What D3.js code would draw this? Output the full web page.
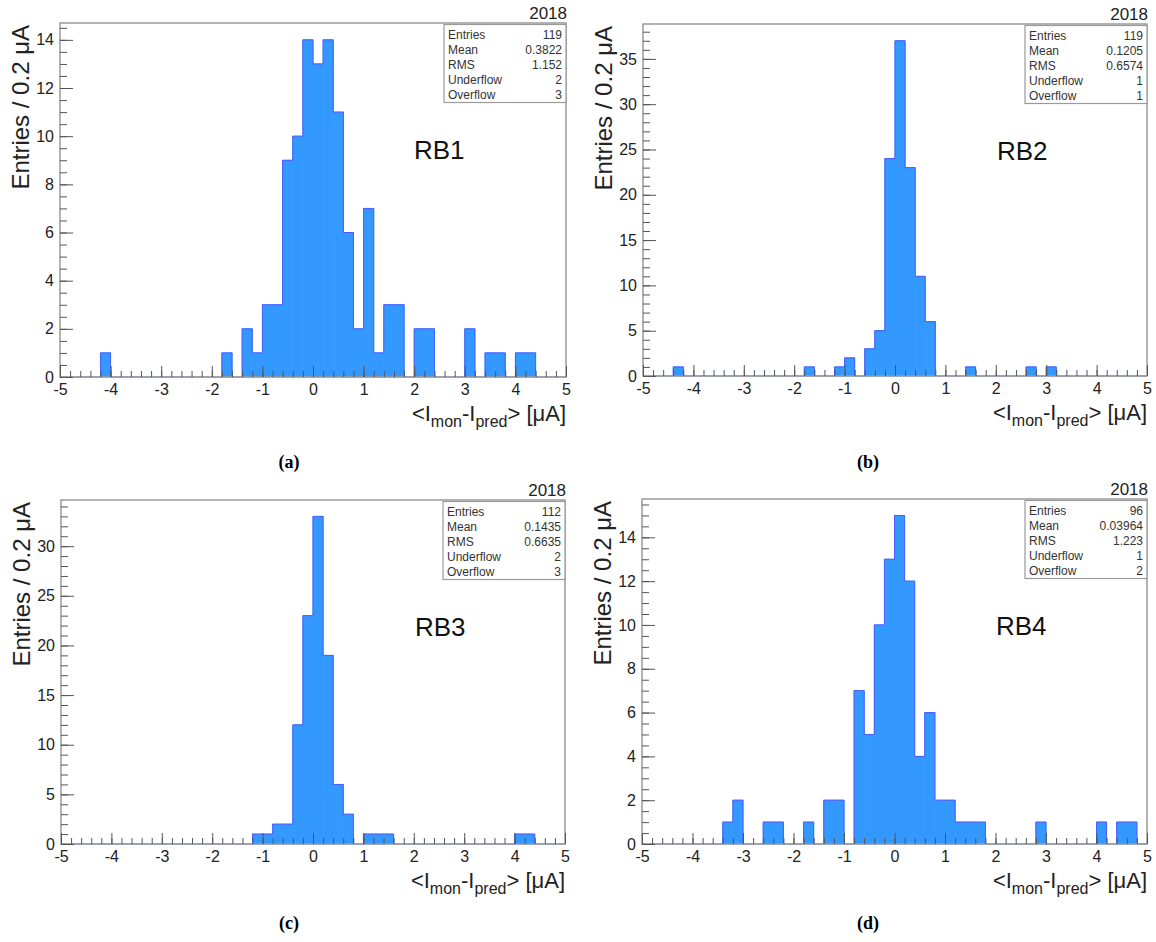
<!DOCTYPE html>
<html>
<head>
<meta charset="utf-8">
<script src="https://cdn.jsdelivr.net/npm/d3@7/dist/d3.min.js"></script>
<style>
body { margin: 0; background: #fff; }
svg { display: block; font-family: "Liberation Sans", Arial, sans-serif; }
</style>
</head>
<body>
<svg id="chart" width="1156" height="942"></svg>
<script>
// 50 bins of 0.2 uA between -5 and 5
var binLow = -5
var binWidth = 0.2

var countsRB1 = [0,0,0,0,1, 0,0,0,0,0, 0,0,0,0,0, 0,1,0,2,1, 3,3,9,10,14, 13,14,11,6,2, 7,1,3,3,0, 2,2,0,0,0, 2,0,1,1,0, 1,1,0,0,0]
var countsRB2 = [0,0,0,1,0, 0,0,0,0,0, 0,0,0,0,0, 0,1,0,0,1, 2,0,3,5,24, 37,23,11,6,0, 0,0,1,0,0, 0,0,0,1,0, 1,0,0,0,0, 0,0,0,0,0]
var countsRB3 = [0,0,0,0,0, 0,0,0,0,0, 0,0,0,0,0, 0,0,0,0,1, 1,2,2,12,23, 33,19,6,3,0, 1,1,1,0,0, 0,0,0,0,0, 0,0,0,0,0, 1,1,0,0,0]
var countsRB4 = [0,0,0,0,0, 0,0,0,1,2, 0,0,1,1,0, 0,1,0,2,2, 0,7,5,10,13, 15,12,4,6,2, 2,1,1,1,0, 0,0,0,0,1, 0,0,0,0,0, 1,0,1,1,0]

var chamberNames = ["RB1", "RB2", "RB3", "RB4"]
var captions = ["(a)", "(b)", "(c)", "(d)"]
var yearLabel = "2018"

var statLabels = ["Entries", "Mean", "RMS", "Underflow", "Overflow"]
var statsRB1 = ["119", "0.3822", "1.152", "2", "3"]
var statsRB2 = ["119", "0.1205", "0.6574", "1", "1"]
var statsRB3 = ["112", "0.1435", "0.6635", "2", "3"]
var statsRB4 = ["96", "0.03964", "1.223", "1", "2"]

var xTicks = [-5, -4, -3, -2, -1, 0, 1, 2, 3, 4, 5]
var yTicksRB1 = [0, 2, 4, 6, 8, 10, 12, 14]
var yTicksRB2 = [0, 5, 10, 15, 20, 25, 30, 35]
var yTicksRB3 = [0, 5, 10, 15, 20, 25, 30]
var yTicksRB4 = [0, 2, 4, 6, 8, 10, 12, 14]
var yMinorSteps = [0.5, 1, 1, 0.5]

var yTitle = "Entries / 0.2 \u03bcA"

var allCounts = [countsRB1, countsRB2, countsRB3, countsRB4]
var allStats = [statsRB1, statsRB2, statsRB3, statsRB4]
var allYTicks = [yTicksRB1, yTicksRB2, yTicksRB3, yTicksRB4]

// frame of each pad (px)
var frames = [
    { x: 60, y: 23, w: 506, h: 354 },
    { x: 643, y: 24, w: 504, h: 352 },
    { x: 61, y: 500, w: 504, h: 344 },
    { x: 642, y: 499, w: 505, h: 345 }
]
var captionPos = [[289, 468], [868, 468], [289, 929], [868, 929]]

var svg = d3.select('#chart')

function drawPanel(i) {
    var f = frames[i]
    var counts = allCounts[i]
    var ymax = d3.max(counts) * 1.05

    var x_scale = d3.scaleLinear().domain([-5, 5]).range([0, f.w])
    var y_scale = d3.scaleLinear().domain([0, ymax]).range([f.h, 0])

    var g = svg.append('g')
        .attr('transform', 'translate(' + f.x + ',' + f.y + ')')

    var bins = counts.map(function (c, k) {
        return { x0: binLow + k * binWidth, x1: binLow + (k + 1) * binWidth, n: c }
    })

    // bars (stroked in fill colour so neighbours don't show seams)
    g.selectAll('rect.bar')
        .data(bins.filter(function (d) { return d.n > 0 }))
        .enter()
        .append('rect')
        .attr('class', 'bar')
        .attr('x', function (d) { return x_scale(d.x0) })
        .attr('width', function (d) { return x_scale(d.x1) - x_scale(d.x0) })
        .attr('y', function (d) { return y_scale(d.n) })
        .attr('height', function (d) { return y_scale(0) - y_scale(d.n) })
        .attr('fill', '#3399ff')
        .attr('stroke', '#3399ff')
        .attr('stroke-width', 0.8)

    // histogram outline
    var pts = [{ x: binLow, n: 0 }]
    bins.forEach(function (b) { pts.push({ x: b.x0, n: b.n }) })
    pts.push({ x: 5, n: counts[counts.length - 1] })
    pts.push({ x: 5, n: 0 })
    var step = d3.line()
        .x(function (d) { return x_scale(d.x) })
        .y(function (d) { return y_scale(d.n) })
        .curve(d3.curveStepAfter)
    g.append('path')
        .attr('d', step(pts))
        .attr('fill', 'none')
        .attr('stroke', '#4d5cff')
        .attr('stroke-width', 1)

    // frame
    g.append('rect')
        .attr('width', f.w)
        .attr('height', f.h)
        .attr('fill', 'none')
        .attr('stroke', '#9a9a9a')
        .attr('stroke-width', 1.5)

    // x axis: majors + minors
    var xMinor = d3.range(0, 51).map(function (k) { return binLow + k * binWidth })
    var gxm = g.append('g')
        .attr('transform', 'translate(0,' + f.h + ')')
        .call(d3.axisBottom(x_scale).tickValues(xMinor).tickSize(-6).tickFormat(''))
    var gx = g.append('g')
        .attr('transform', 'translate(0,' + f.h + ')')
        .call(d3.axisBottom(x_scale).tickValues(xTicks).tickSize(-11).tickPadding(7)
            .tickFormat(function (d) { return String(d) }))

    // y axis
    var yMinor = d3.range(0, ymax, yMinorSteps[i])
    var gym = g.append('g')
        .call(d3.axisLeft(y_scale).tickValues(yMinor).tickSize(-7).tickFormat(''))
    var gy = g.append('g')
        .call(d3.axisLeft(y_scale).tickValues(allYTicks[i]).tickSize(-13).tickPadding(6)
            .tickFormat(function (d) { return String(d) }))

    ;[gxm, gx, gym, gy].forEach(function (a) {
        a.select('.domain').remove()
        a.selectAll('line').attr('stroke', '#555').attr('stroke-width', 1)
        a.selectAll('text')
            .attr('font-size', 16)
            .attr('font-family', '"Liberation Sans", Arial, sans-serif')
            .attr('fill', '#222')
    })

    // stats box
    var bw = 122, bh = 78
    var box = g.append('g').attr('transform', 'translate(' + (f.w - bw) + ',1.5)')
    box.append('rect')
        .attr('width', bw)
        .attr('height', bh)
        .attr('fill', '#fff')
        .attr('stroke', '#9a9a9a')
        .attr('stroke-width', 1.2)
    statLabels.forEach(function (lab, k) {
        box.append('text')
            .attr('x', 4)
            .attr('y', 14 + k * 15)
            .attr('font-size', 12)
            .attr('fill', '#333')
            .text(lab)
        box.append('text')
            .attr('x', bw - 4)
            .attr('y', 14 + k * 15)
            .attr('text-anchor', 'end')
            .attr('font-size', 12)
            .attr('fill', '#333')
            .text(allStats[i][k])
    })

    // year
    g.append('text')
        .attr('x', f.w + 1)
        .attr('y', -4)
        .attr('text-anchor', 'end')
        .attr('font-size', 17)
        .attr('fill', '#222')
        .text(yearLabel)

    // chamber label
    g.append('text')
        .attr('x', 354)
        .attr('y', 136)
        .attr('font-size', 26)
        .attr('fill', '#111')
        .text(chamberNames[i])

    // y title
    g.append('text')
        .attr('transform', 'translate(-31,2) rotate(-90)')
        .attr('text-anchor', 'end')
        .attr('font-size', 24)
        .attr('fill', '#222')
        .text(yTitle)

    // x title  <I_mon - I_pred> [uA]
    var xt = g.append('text')
        .attr('x', f.w)
        .attr('y', f.h + 44)
        .attr('text-anchor', 'end')
        .attr('font-size', 22)
        .attr('fill', '#222')
    xt.append('tspan').text('<I')
    xt.append('tspan').attr('font-size', 16).attr('dy', 6).text('mon')
    xt.append('tspan').attr('dy', -6).text('-I')
    xt.append('tspan').attr('font-size', 16).attr('dy', 6).text('pred')
    xt.append('tspan').attr('dy', -6).text('> [\u03bcA]')
}

for (var i = 0; i < 4; i++) {
    drawPanel(i)
}

svg.selectAll('text.caption')
    .data(captions)
    .enter()
    .append('text')
    .attr('class', 'caption')
    .attr('x', function (d, k) { return captionPos[k][0] })
    .attr('y', function (d, k) { return captionPos[k][1] })
    .attr('text-anchor', 'middle')
    .attr('font-family', '"Liberation Serif", "Times New Roman", serif')
    .attr('font-weight', 'bold')
    .attr('font-size', 18)
    .attr('fill', '#000')
    .text(function (d) { return d })
</script>
</body>
</html>
